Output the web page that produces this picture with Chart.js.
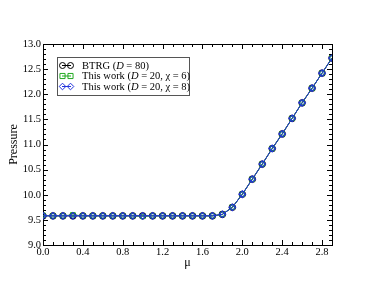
<!DOCTYPE html>
<html>
<head>
<meta charset="utf-8">
<script src="https://cdn.jsdelivr.net/npm/chart.js"></script>
<style>
  html, body { margin: 0; padding: 0; background: #fff; }
  #wrap { width: 374px; height: 289px; }
</style>
</head>
<body>
<div id="wrap"><canvas id="chart" width="374" height="289"></canvas></div>
<script>
// values
const mu = [0.0, 0.1, 0.2, 0.3, 0.4, 0.5, 0.6, 0.7, 0.8, 0.9, 1.0, 1.1, 1.2, 1.3, 1.4,
            1.5, 1.6, 1.7, 1.8, 1.9, 2.0, 2.1, 2.2, 2.3, 2.4, 2.5, 2.6, 2.7, 2.8, 2.9];
const btrg = [9.58, 9.58, 9.58, 9.58, 9.58, 9.58, 9.58, 9.58, 9.58, 9.58, 9.58, 9.58, 9.58, 9.58, 9.58,
              9.58, 9.58, 9.58, 9.61, 9.75, 10.01, 10.31, 10.61, 10.92, 11.21, 11.52, 11.83, 12.12, 12.42, 12.72];
const chi6 = [9.59, 9.58, 9.58, 9.60, 9.58, 9.58, 9.58, 9.58, 9.58, 9.58, 9.57, 9.58, 9.58, 9.58, 9.58,
              9.58, 9.58, 9.58, 9.61, 9.75, 10.01, 10.31, 10.61, 10.92, 11.21, 11.52, 11.83, 12.12, 12.42, 12.72];
const chi8 = [9.58, 9.58, 9.58, 9.58, 9.58, 9.58, 9.58, 9.58, 9.58, 9.58, 9.58, 9.58, 9.58, 9.58, 9.58,
              9.58, 9.58, 9.58, 9.61, 9.75, 10.01, 10.31, 10.61, 10.92, 11.21, 11.52, 11.83, 12.12, 12.42, 12.72];

const xTicks = [0.0, 0.4, 0.8, 1.2, 1.6, 2.0, 2.4, 2.8];
const yTicks = [9.0, 9.5, 10.0, 10.5, 11.0, 11.5, 12.0, 12.5, 13.0];

const SERIF = "'Liberation Serif', 'DejaVu Serif', serif";

const series = [
  { label: [["BTRG (", ""], ["D", "italic"], [" = 80)", ""]], data: btrg, color: "#000000", style: "circle" },
  { label: [["This work (", ""], ["D", "italic"], [" = 20, ", ""], ["\u03c7", ""], [" = 6)", ""]], data: chi6, color: "#22aa22", style: "rect" },
  { label: [["This work (", ""], ["D", "italic"], [" = 20, ", ""], ["\u03c7", ""], [" = 8)", ""]], data: chi8, color: "#2233dd", style: "rectRot" }
];

function toPoints(ys) {
  return mu.map((x, i) => ({ x: x, y: ys[i] }));
}

function drawMarker(ctx, style, x, y, r, color) {
  ctx.save();
  ctx.strokeStyle = color;
  ctx.lineWidth = 1;
  ctx.fillStyle = "#fff";
  ctx.beginPath();
  if (style === "circle") {
    ctx.arc(x, y, r, 0, Math.PI * 2);
  } else if (style === "rect") {
    ctx.rect(x - r * 0.85, y - r * 0.85, r * 1.7, r * 1.7);
  } else {
    ctx.moveTo(x, y - r * 1.1);
    ctx.lineTo(x + r * 1.1, y);
    ctx.lineTo(x, y + r * 1.1);
    ctx.lineTo(x - r * 1.1, y);
    ctx.closePath();
  }
  ctx.stroke();
  ctx.restore();
}

// frame, inward ticks, axis titles, legend
const frameAndLegend = {
  id: "frameAndLegend",
  beforeDatasetsDraw(chart) {
    const { ctx, chartArea: a, scales } = chart;
    const xs = scales.x, ys = scales.y;
    ctx.save();
    ctx.strokeStyle = "#000";
    ctx.lineWidth = 1;
    ctx.beginPath();
    // x ticks, bottom and top
    for (let i = 0; i <= 29; i++) {
      const v = i / 10;
      const px = Math.round(xs.getPixelForValue(v)) + 0.5;
      const len = (i % 4 === 0) ? 5 : 3;
      ctx.moveTo(px, a.bottom); ctx.lineTo(px, a.bottom - len);
      ctx.moveTo(px, a.top); ctx.lineTo(px, a.top + len);
    }
    // y ticks, left and right
    for (let i = 0; i <= 40; i++) {
      const v = 9 + i / 10;
      const py = Math.round(ys.getPixelForValue(v)) + 0.5;
      const len = (i % 5 === 0) ? 5 : 3;
      ctx.moveTo(a.left, py); ctx.lineTo(a.left + len, py);
      ctx.moveTo(a.right, py); ctx.lineTo(a.right - len, py);
    }
    ctx.stroke();
    ctx.strokeRect(Math.round(a.left) + 0.5, Math.round(a.top) + 0.5,
                   Math.round(a.right - a.left), Math.round(a.bottom - a.top));

    // axis titles
    ctx.fillStyle = "#000";
    ctx.font = "12px " + SERIF;
    ctx.textAlign = "center";
    ctx.textBaseline = "middle";
    ctx.fillText("\u03bc", (a.left + a.right) / 2, 263);
    ctx.save();
    ctx.translate(14, (a.top + a.bottom) / 2);
    ctx.rotate(-Math.PI / 2);
    ctx.fillText("Pressure", 0, 0);
    ctx.restore();
    ctx.restore();
  },
  afterDatasetsDraw(chart) {
    const { ctx } = chart;
    ctx.save();
    // legend box
    ctx.fillStyle = "#fff";
    ctx.fillRect(57, 57, 133, 38);
    ctx.strokeStyle = "#555";
    ctx.lineWidth = 1;
    ctx.strokeRect(57.5, 57.5, 132, 38);
    const rows = [65.5, 76, 86.5];
    series.forEach((s, i) => {
      const y = rows[i];
      ctx.strokeStyle = s.color;
      ctx.beginPath();
      ctx.moveTo(62, y); ctx.lineTo(71, y);
      ctx.stroke();
      drawMarker(ctx, s.style, 62.5, y, 3, s.color);
      drawMarker(ctx, s.style, 70.5, y, 3, s.color);
      let x = 82;
      ctx.fillStyle = "#000";
      ctx.textAlign = "left";
      ctx.textBaseline = "middle";
      s.label.forEach(([txt, st]) => {
        ctx.font = (st ? st + " " : "") + "10.5px " + SERIF;
        ctx.fillText(txt, x, y + 0.5);
        x += ctx.measureText(txt).width;
      });
    });
    ctx.restore();
  }
};

// blue series drawn last (on top), black first
const datasets = series.map((s, i) => ({
  label: s.label.map(p => p[0]).join(""),
  data: toPoints(s.data),
  order: series.length - 1 - i,
  borderColor: s.color,
  backgroundColor: "rgba(0,0,0,0)",
  pointBorderColor: s.color,
  pointBackgroundColor: "rgba(0,0,0,0)",
  pointStyle: s.style,
  pointRadius: s.style === "rectRot" ? 3.3 : 3,
  pointBorderWidth: 1.2,
  borderWidth: 1,
  tension: 0
}));

new Chart(document.getElementById("chart"), {
  type: "line",
  data: { datasets: datasets },
  options: {
    responsive: false,
    animation: false,
    events: [],
    layout: { padding: { left: 0, right: 42, top: 44, bottom: 0 } },
    plugins: { legend: { display: false }, tooltip: { enabled: false } },
    scales: {
      x: {
        type: "linear",
        min: 0, max: 2.9,
        afterFit(scale) { scale.height = 44; },
        afterBuildTicks(scale) { scale.ticks = xTicks.map(v => ({ value: v })); },
        grid: { display: false, drawTicks: false },
        border: { display: false },
        ticks: {
          padding: 1, maxRotation: 0, autoSkip: false,
          color: "#000",
          font: { family: SERIF, size: 10.5 },
          callback: v => Number(v).toFixed(1)
        }
      },
      y: {
        type: "linear",
        min: 9, max: 13,
        afterFit(scale) { scale.width = 43; },
        afterBuildTicks(scale) { scale.ticks = yTicks.map(v => ({ value: v })); },
        grid: { display: false, drawTicks: false },
        border: { display: false },
        ticks: {
          padding: 2, autoSkip: false,
          color: "#000",
          font: { family: SERIF, size: 10.5 },
          callback: v => Number(v).toFixed(1)
        }
      }
    }
  },
  plugins: [frameAndLegend]
});
</script>
</body>
</html>
